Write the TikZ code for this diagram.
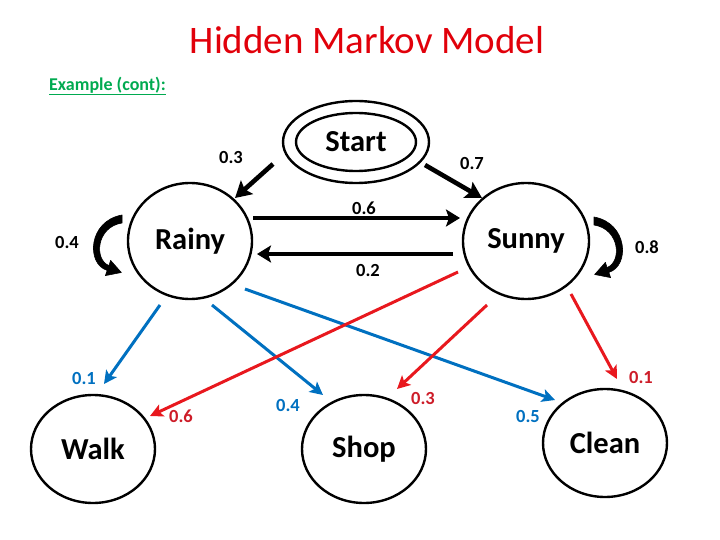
\documentclass[tikz,border=0pt]{standalone}
\usepackage{fontspec}
\setmainfont{Carlito}
\usetikzlibrary{arrows.meta,shapes.geometric}
\definecolor{titlered}{RGB}{225,0,10}
\definecolor{arrred}{RGB}{232,24,30}
\definecolor{labred}{RGB}{205,28,40}
\definecolor{myblue}{RGB}{0,112,192}
\definecolor{exgreen}{RGB}{0,170,80}
\begin{document}
\begin{tikzpicture}[x=1pt,y=-1pt,
  state/.style={ellipse, draw, line width=2.4pt, inner sep=0pt,
    minimum width=124, minimum height=108, font=\bfseries\fontsize{30.5}{36}\selectfont},
  lab/.style={font=\bfseries\fontsize{18.5}{21}\selectfont, inner sep=0pt},
  blk/.style={line width=3.6pt, -{Stealth[length=14pt,width=17pt,inset=3pt]}},
  blkthick/.style={line width=4.6pt, -{Stealth[length=16pt,width=18pt,inset=3pt]}},
  bluearr/.style={myblue, line width=3pt, -{Stealth[length=13pt,width=13pt,inset=3pt]}},
  redarr/.style={arrred, line width=3pt, -{Stealth[length=13pt,width=13pt,inset=3pt]}},
  loopshape/.style={fill=black, draw=black, line width=0.6pt, line join=round}
]
\useasboundingbox (0,0) rectangle (720,540);

% title
\node[font=\fontsize{39}{46}\selectfont, text=titlered] (title) at (367,40) {Hidden Markov Model};
\node[anchor=west, font=\bfseries\fontsize{18}{20}\selectfont, text=exgreen, inner sep=0pt]
  (ex) at (49,86) {\underline{Example (cont):}};

% states
\node[state, minimum width=146, minimum height=82] (start) at (356,142) {Start};
\draw[line width=2.4pt] (start.center) ellipse [x radius=60, y radius=29];
\node[state, minimum height=116] (rainy) at (190,241) {Rainy};
\node[state, minimum width=126, minimum height=116] (sunny) at (526,241) {Sunny};
\node[state] (walk) at (93,449) {Walk};
\node[state] (shop) at (364,449) {Shop};
\node[state] (clean) at (605,443) {Clean};

% transitions
\draw[blkthick] ([shift={(-83,22)}]start.center) -- ([shift={(45,-43)}]rainy.center);
\draw[blkthick] ([shift={(69,23)}]start.center) -- ([shift={(-44,-43)}]sunny.center);
\draw[blk] ([shift={(63,-23)}]rainy.center) -- ([shift={(-66,-23)}]sunny.center);
\draw[blk] ([shift={(-73,13)}]sunny.center) -- ([shift={(67,13)}]rainy.center);

% self loops
\begin{scope}[shift={(rainy.center)}]
\fill[loopshape] (-68,-26) .. controls (-102,-20) and (-104,23) .. (-82.8,29.4)
  -- (-84.6,34.6) -- (-68.7,31.5) -- (-79.4,19.4) -- (-81,24.6)
  .. controls (-96,19) and (-94,-14) .. (-68,-18) -- cycle;
\end{scope}
\begin{scope}[shift={(sunny.center)}, xscale=-1]
\fill[loopshape] (-68,-24) .. controls (-102,-18) and (-104,25) .. (-82.8,31.4)
  -- (-84.6,36.6) -- (-68.7,33.5) -- (-79.4,21.4) -- (-81,26.6)
  .. controls (-96,21) and (-94,-12) .. (-68,-16) -- cycle;
\end{scope}

% emissions
\draw[bluearr] ([shift={(-30,64)}]rainy.center) -- ([shift={(11,-65)}]walk.center);
\draw[bluearr] ([shift={(22,64)}]rainy.center) -- ([shift={(-41,-54)}]shop.center);
\draw[bluearr] ([shift={(55,48)}]rainy.center) -- ([shift={(-50,-43)}]clean.center);
\draw[redarr] ([shift={(-68,31)}]sunny.center) -- ([shift={(57,-33)}]walk.center);
\draw[redarr] ([shift={(-39,64)}]sunny.center) -- ([shift={(33,-60)}]shop.center);
\draw[redarr] ([shift={(45,53)}]sunny.center) -- ([shift={(12,-64)}]clean.center);

% labels
\node[lab] (p03) at (231,157) {0.3};
\node[lab] (p07) at (472,163) {0.7};
\node[lab] (p06) at (364,208) {0.6};
\node[lab] (p02) at (368,270) {0.2};
\node[lab] (p04) at (67,242) {0.4};
\node[lab] (p08) at (647,247) {0.8};
\node[lab, text=myblue] (e01) at (84,378) {0.1};
\node[lab, text=myblue] (e04) at (288,405) {0.4};
\node[lab, text=myblue] (e05) at (528,416) {0.5};
\node[lab, text=labred] (f06) at (181,416) {0.6};
\node[lab, text=labred] (f03) at (423,398) {0.3};
\node[lab, text=labred] (f01) at (641,377) {0.1};
\end{tikzpicture}
\end{document}
